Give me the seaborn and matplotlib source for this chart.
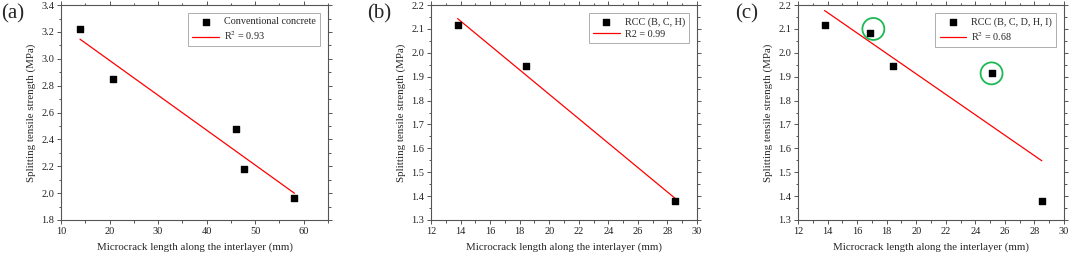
import numpy as np
import seaborn as sns
import matplotlib.pyplot as plt
from matplotlib.ticker import MultipleLocator, AutoMinorLocator

# panel (a) - conventional concrete
crack_a = [13.9, 20.7, 46.1, 47.8, 58.1]
strength_a = [3.225, 2.848, 2.475, 2.178, 1.965]

# panel (b) - RCC (B, C, H)
crack_b = [13.8, 18.4, 28.5]
strength_b = [2.118, 1.945, 1.380]

# panel (c) - RCC (B, C, D, H, I)
crack_c = [13.8, 16.9, 18.4, 25.1, 28.5]
strength_c = [2.118, 2.085, 1.945, 1.915, 1.380]

# highlighted points in (c)
circle_x = [17.1, 25.1]
circle_y = [2.100, 1.914]

sns.set_style("ticks")
plt.rcParams['font.family'] = ['Liberation Serif', 'DejaVu Serif']
plt.rcParams['mathtext.fontset'] = 'stix'

SPINE = '#555555'

fig = plt.figure(figsize=(10.69, 2.54), dpi=100)
ax_a = fig.add_axes([0.0571, 0.134, 0.2497, 0.846])
ax_b = fig.add_axes([0.4032, 0.134, 0.2488, 0.846])
ax_c = fig.add_axes([0.7465, 0.134, 0.2488, 0.846])


def draw_panel(ax, x, y, series_label, fit_label):
    sns.regplot(x=x, y=y, ax=ax, ci=None, truncate=True,
                marker='s', label=series_label,
                scatter_kws=dict(s=18, color='black', alpha=1, zorder=3),
                line_kws=dict(color='red', lw=0.9, label=fit_label))
    ax.tick_params(axis='both', which='both', direction='out', top=True, right=True,
                   labelsize=7.5, color=SPINE, width=0.7, pad=2)
    ax.tick_params(which='major', length=3)
    ax.tick_params(which='minor', length=1.8)
    ax.xaxis.set_minor_locator(AutoMinorLocator(2))
    ax.yaxis.set_minor_locator(AutoMinorLocator(2))
    for sp in ax.spines.values():
        sp.set_visible(True)
        sp.set_color(SPINE)
        sp.set_linewidth(0.8)
    ax.set_xlabel('Microcrack length along the interlayer (mm)', fontsize=7.8, labelpad=5)
    ax.set_ylabel('Splitting tensile strength (MPa)', fontsize=7.8, labelpad=4)
    leg = ax.legend(loc='upper right', fontsize=7.3, frameon=True, fancybox=False,
                    edgecolor='#999999', handlelength=2.6, handletextpad=0.5,
                    borderpad=0.4, labelspacing=0.3, borderaxespad=0.8,
                    scatterpoints=1)
    leg.get_frame().set_linewidth(0.7)


draw_panel(ax_a, crack_a, strength_a, 'Conventional concrete', r'R$^2$ = 0.93')
ax_a.set_xlim(10, 65)
ax_a.set_ylim(1.8, 3.4)
ax_a.xaxis.set_major_locator(MultipleLocator(10))
ax_a.yaxis.set_major_locator(MultipleLocator(0.2))

draw_panel(ax_b, crack_b, strength_b, 'RCC (B, C, H)', 'R2 = 0.99')
ax_b.set_xlim(12, 30)
ax_b.set_ylim(1.3, 2.2)
ax_b.xaxis.set_major_locator(MultipleLocator(2))
ax_b.yaxis.set_major_locator(MultipleLocator(0.1))

draw_panel(ax_c, crack_c, strength_c, 'RCC (B, C, D, H, I)', r'R$^2$ = 0.68')
ax_c.set_xlim(12, 30)
ax_c.set_ylim(1.3, 2.2)
ax_c.xaxis.set_major_locator(MultipleLocator(2))
ax_c.yaxis.set_major_locator(MultipleLocator(0.1))
ax_c.scatter(circle_x, circle_y, s=250, facecolors='none', edgecolors='#1db954',
             linewidths=1.3, zorder=4)

for ax in (ax_a, ax_b, ax_c):
    for t in ax.get_xticklabels() + ax.get_yticklabels():
        t.set_color('#222222')

fig.text(0.001, 0.945, '(a)', fontsize=15, va='center', ha='left')
fig.text(0.343, 0.945, '(b)', fontsize=15, va='center', ha='left')
fig.text(0.688, 0.945, '(c)', fontsize=15, va='center', ha='left')

fig.savefig('out.png', dpi=100)
